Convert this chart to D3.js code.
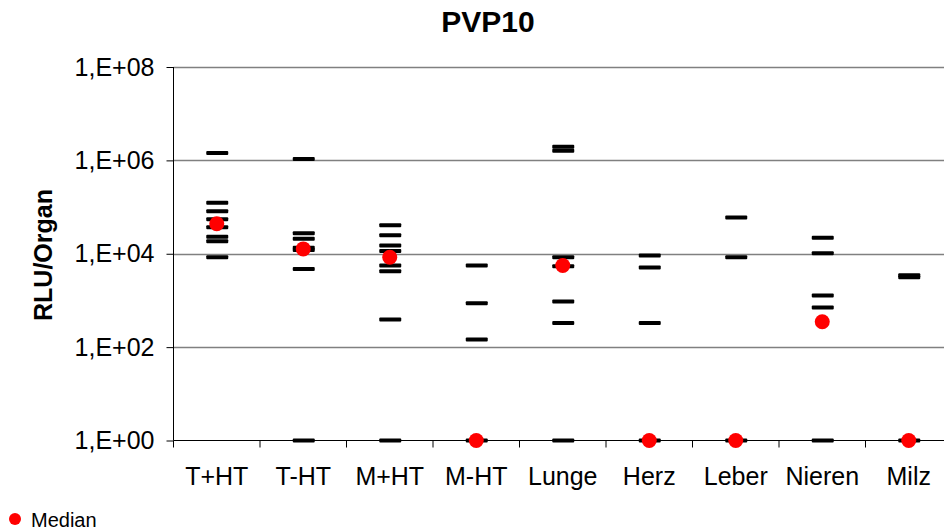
<!DOCTYPE html>
<html>
<head>
<meta charset="utf-8">
<title>PVP10</title>
<script src="https://d3js.org/d3.v7.min.js"></script>
<style>
  body { margin: 0; background: #fff; }
  text { font-family: Arial, "Liberation Sans", sans-serif; }
</style>
</head>
<body>
<svg id="chart" width="944" height="532"></svg>
<script>
// categories on the x axis
var categories = ['T+HT', 'T-HT', 'M+HT', 'M-HT', 'Lunge', 'Herz', 'Leber', 'Nieren', 'Milz'];

// single measurements (RLU/Organ), one list per category
var tHT_plus  = [1.43e6, 1.23e5, 8.1e4, 5.5e4, 3.7e4, 2.3e4, 1.86e4, 8.4e3];
var tHT_minus = [1.07e6, 2.75e4, 2.1e4, 1.35e4, 1.2e4, 4.7e3, 1];
var mHT_plus  = [4.1e4, 2.5e4, 1.5e4, 1.15e4, 5.6e3, 4.2e3, 3.9e2, 1];
var mHT_minus = [5.6e3, 8.7e2, 1.45e2, 1];
var lunge     = [1.95e6, 1.6e6, 8.4e3, 5.4e3, 9.5e2, 3.3e2, 1];
var herz      = [9.2e3, 5.1e3, 3.3e2, 1];
var leber     = [6.0e4, 8.4e3, 1];
var nieren    = [2.2e4, 1.02e4, 1.28e3, 7.1e2, 1];
var milz      = [3.45e3, 3.15e3, 1];

var seriesValues = [tHT_plus, tHT_minus, mHT_plus, mHT_minus, lunge, herz, leber, nieren, milz];

// median per category
var medians = [4.4e4, 1.27e4, 8.4e3, 1, 5.6e3, 1, 1, 3.5e2, 1];

// y ticks and their labels
var yTicks = [1, 1e2, 1e4, 1e6, 1e8];
var yTickLabels = ['1,E+00', '1,E+02', '1,E+04', '1,E+06', '1,E+08'];

var svg = d3.select('#chart');

var x = d3.scaleBand()
    .domain(categories)
    .range([173.5, 952])
    .padding(0);

var y = d3.scaleLog()
    .domain([1, 1e8])
    .range([440.5, 67]);

// grid lines
svg.append('g')
    .selectAll('line')
    .data(yTicks.slice(1))
    .enter().append('line')
        .attr('x1', 173.5)
        .attr('x2', 944)
        .attr('y1', function(d) { return Math.round(y(d)) + 0.5; })
        .attr('y2', function(d) { return Math.round(y(d)) + 0.5; })
        .attr('stroke', '#808080')
        .attr('stroke-width', 1.3);

// y axis
var yAxis = d3.axisLeft(y)
    .tickValues(yTicks)
    .tickSize(7)
    .tickPadding(12)
    .tickFormat(function(d, i) { return yTickLabels[i]; });

var gy = svg.append('g')
    .attr('transform', 'translate(173.5,0)')
    .call(yAxis);
gy.select('.domain').attr('stroke', '#000').attr('d', 'M0,67V440.5');
gy.selectAll('.tick line').attr('stroke', '#000');
gy.selectAll('.tick text')
    .attr('font-size', 25)
    .attr('fill', '#000')
    .attr('font-family', 'Arial, "Liberation Sans", sans-serif');

// x axis
var xAxis = d3.axisBottom(x)
    .tickSize(0)
    .tickPadding(27);

var gx = svg.append('g')
    .attr('transform', 'translate(0,440.5)')
    .call(xAxis);
gx.select('.domain').attr('stroke', '#000').attr('d', 'M173.5,0H944');
gx.selectAll('.tick text')
    .attr('font-size', 25)
    .attr('fill', '#000')
    .attr('font-family', 'Arial, "Liberation Sans", sans-serif');

// x tick marks between categories
gx.append('g')
    .selectAll('line')
    .data(categories)
    .enter().append('line')
        .attr('x1', function(d) { return x(d); })
        .attr('x2', function(d) { return x(d); })
        .attr('y1', 0)
        .attr('y2', 7)
        .attr('stroke', '#000');

// single values as dashes
var groups = svg.append('g')
    .selectAll('g')
    .data(seriesValues)
    .enter().append('g');

groups.selectAll('rect')
    .data(function(d, i) {
        return d.map(function(v) { return {cat: categories[i], v: v}; });
    })
    .enter().append('rect')
        .attr('x', function(d) { return x(d.cat) + x.bandwidth() / 2 - 10.5; })
        .attr('y', function(d) { return y(d.v) - 2; })
        .attr('width', 22)
        .attr('height', 4)
        .attr('rx', 1)
        .attr('fill', '#000');

// medians
svg.append('g')
    .selectAll('circle')
    .data(medians)
    .enter().append('circle')
        .attr('cx', function(d, i) { return x(categories[i]) + x.bandwidth() / 2; })
        .attr('cy', function(d) { return y(d); })
        .attr('r', 7.5)
        .attr('fill', '#ff0000');

// title
svg.append('text')
    .attr('x', 488)
    .attr('y', 32)
    .attr('text-anchor', 'middle')
    .attr('font-size', 30)
    .attr('font-weight', 'bold')
    .text('PVP10');

// y axis title
svg.append('text')
    .attr('transform', 'translate(52,255) rotate(-90)')
    .attr('text-anchor', 'middle')
    .attr('font-size', 25)
    .attr('font-weight', 'bold')
    .text('RLU/Organ');

// legend
svg.append('circle')
    .attr('cx', 15)
    .attr('cy', 519)
    .attr('r', 6)
    .attr('fill', '#ff0000');
svg.append('text')
    .attr('x', 31)
    .attr('y', 527)
    .attr('font-size', 20)
    .text('Median');
</script>
</body>
</html>
